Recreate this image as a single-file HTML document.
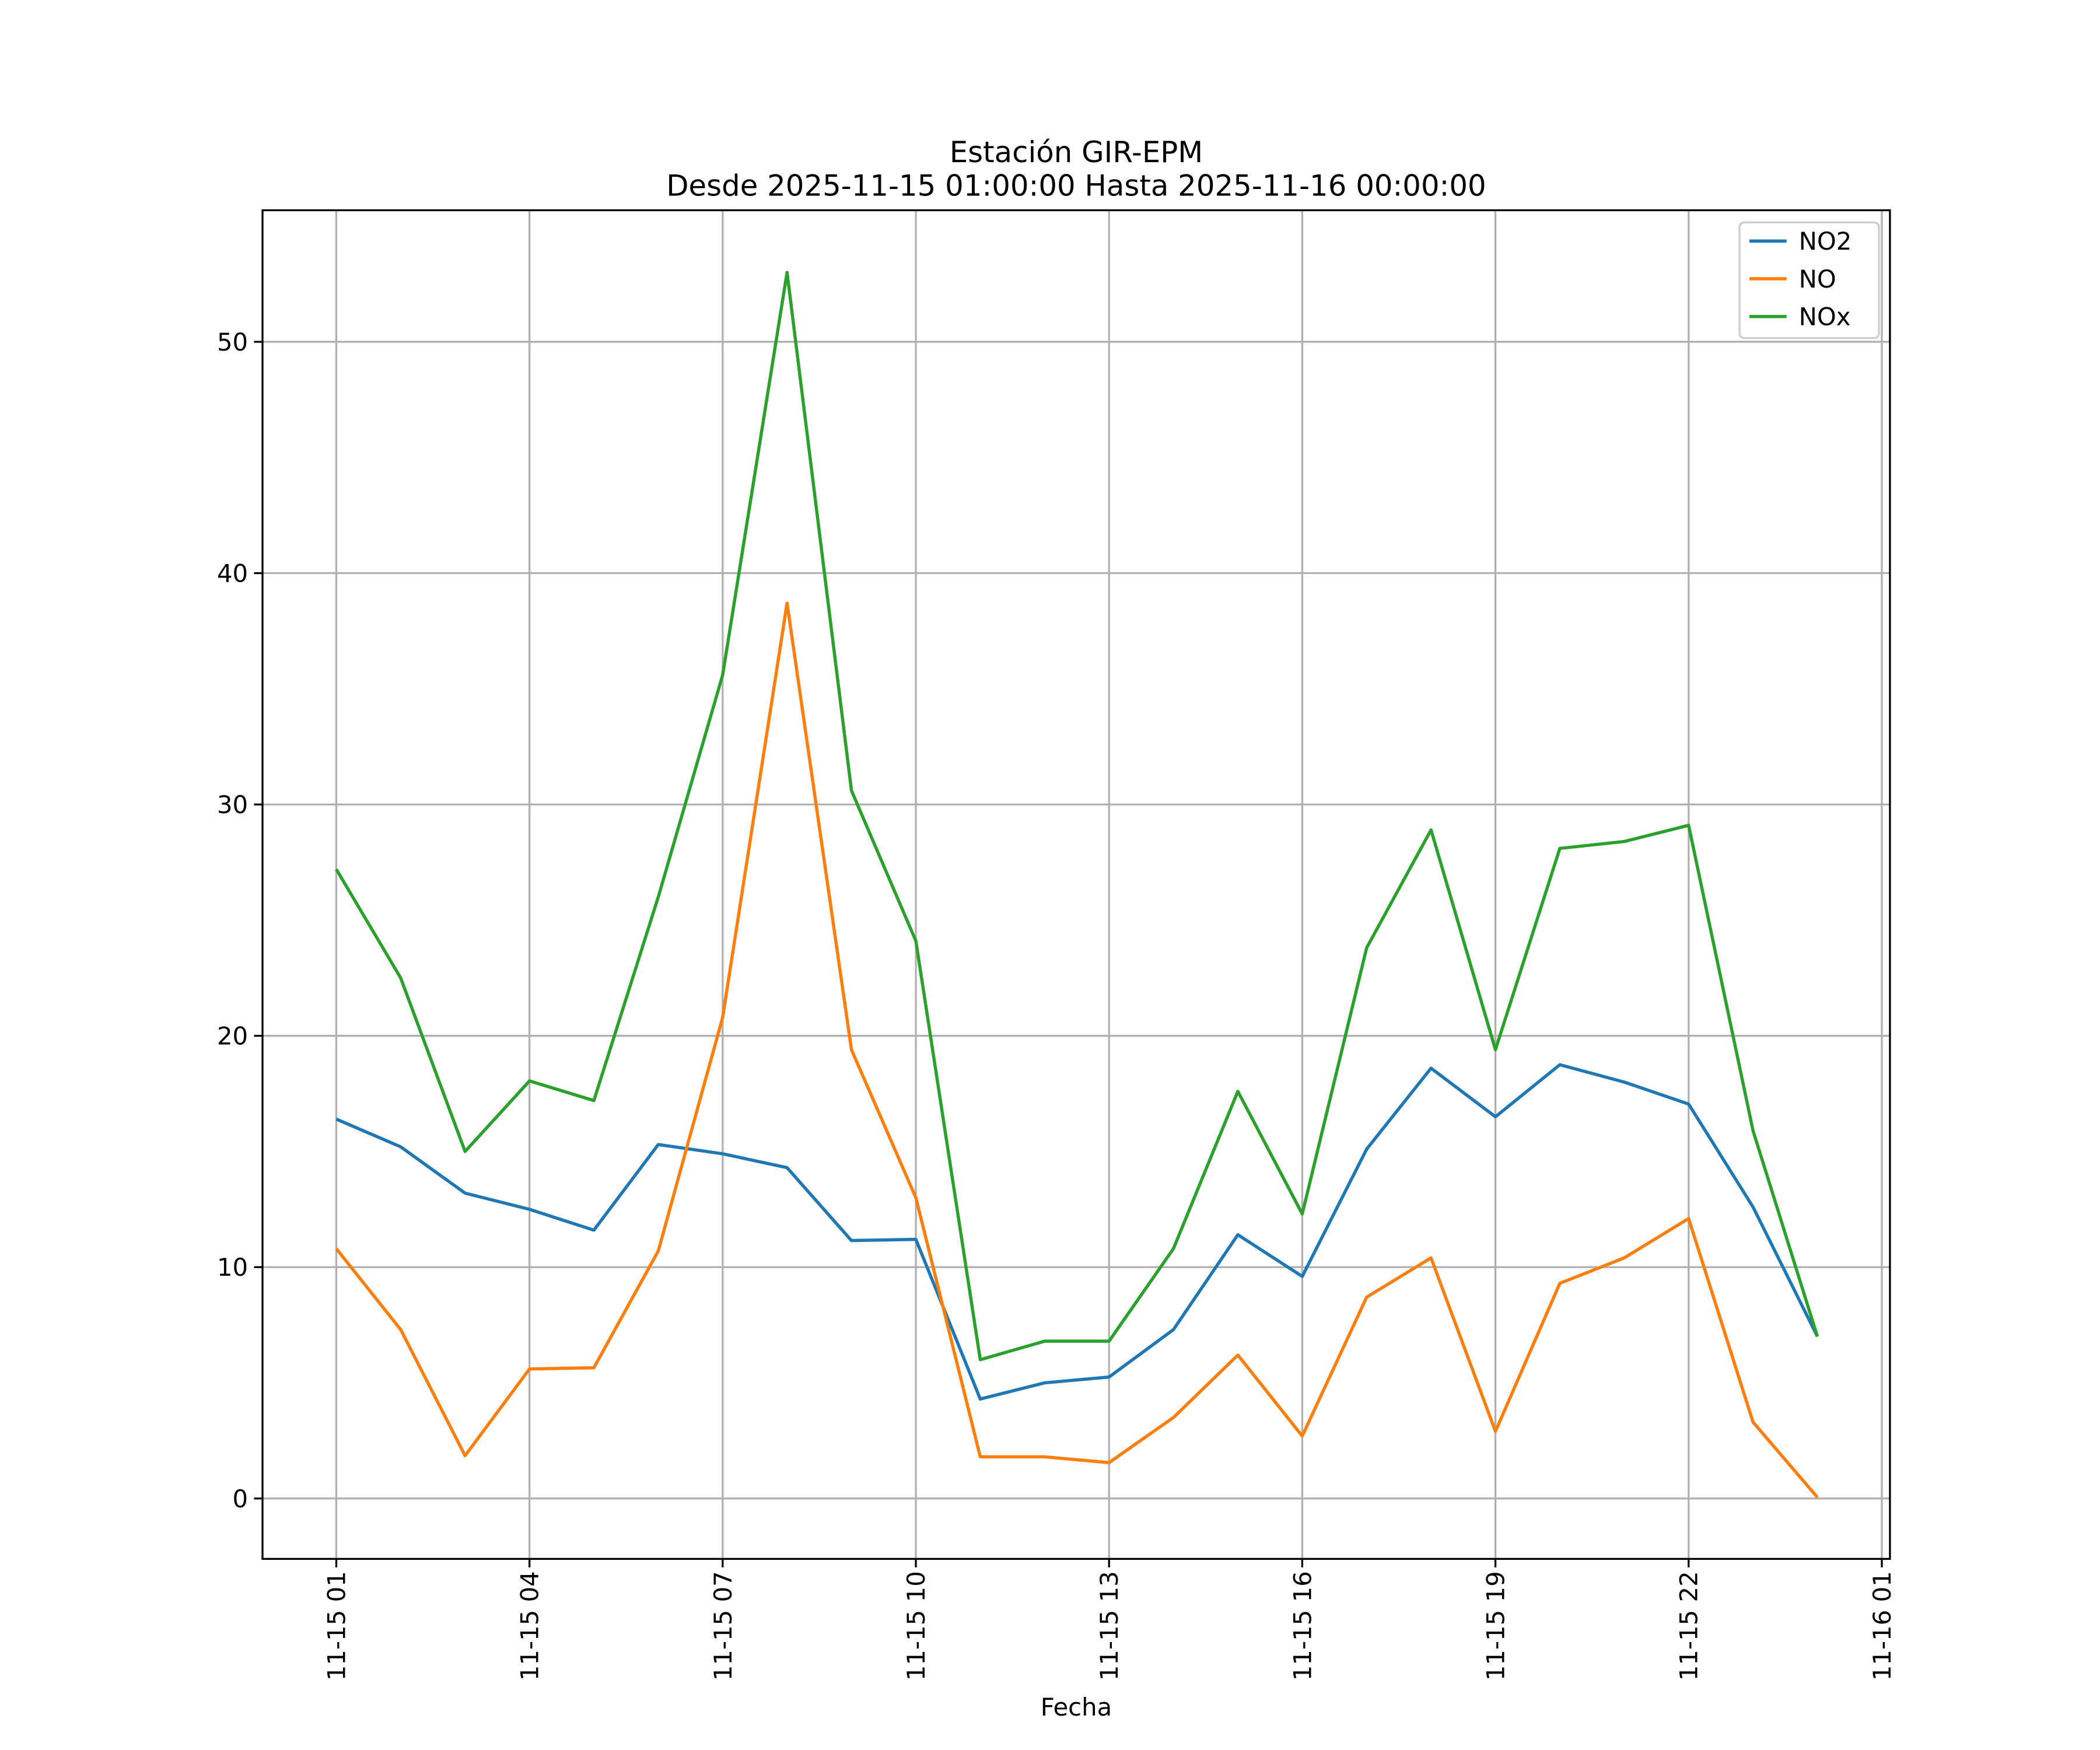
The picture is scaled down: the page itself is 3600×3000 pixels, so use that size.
<!DOCTYPE html>
<html><head><meta charset="utf-8"><style>body{margin:0;background:#fff}svg{display:block;font-family:"DejaVu Sans","Liberation Sans",sans-serif}</style></head>
<body>
<svg id="chart" width="3600" height="3000" xmlns="http://www.w3.org/2000/svg">
<rect width="3600" height="3000" fill="#fff"/>
<g transform="scale(0.99567)">
<g id="grid"></g>
<g id="series"></g>
<rect x="452" y="362" width="2802" height="2322" fill="none" stroke="#000" stroke-width="3.3"/>
<g id="ticks"></g>
<text x="1853" y="279" font-size="50" text-anchor="middle">Estación GIR-EPM</text>
<text x="1853" y="337" font-size="50" text-anchor="middle">Desde 2025-11-15 01:00:00 Hasta 2025-11-16 00:00:00</text>
<text x="1853" y="2954" font-size="42" text-anchor="middle">Fecha</text>
<g id="legend"></g>
</g>
</svg>
<script>
const hours = [1,2,3,4,5,6,7,8,9,10,11,12,13,14,15,16,17,18,19,20,21,22,23,24];
const no2 = [16.4,15.2,13.2,12.5,11.6,15.3,14.9,14.3,11.15,11.2,4.3,5.0,5.25,7.3,11.4,9.6,15.1,18.6,16.5,18.75,18.0,17.05,12.6,7.0];
const no = [10.8,7.3,1.85,5.6,5.65,10.7,20.8,38.7,19.4,13.0,1.8,1.8,1.55,3.5,6.2,2.7,8.7,10.4,2.9,9.3,10.4,12.1,3.3,0.05];
const nox = [27.2,22.5,15.0,18.05,17.2,26.0,35.6,53.0,30.6,24.1,6.0,6.8,6.8,10.8,17.6,12.3,23.8,28.9,19.4,28.1,28.4,29.1,15.9,7.0];
const xTickHours = [1,4,7,10,13,16,19,22,25];
const xTickLabels = ["11-15 01","11-15 04","11-15 07","11-15 10","11-15 13","11-15 16","11-15 19","11-15 22","11-16 01"];
const yTicks = [0,10,20,30,40,50];
const seriesNames = ["NO2","NO","NOx"];
const colors = ["#1f77b4","#ff7f0e","#2ca02c"];
const NS="http://www.w3.org/2000/svg";
const L=452,R=3254,T=362,B=2684;
const xs=h=>579+(h-1)*(3240-579)/24;
const ys=v=>2580-v*(2580-588.5)/50;
function mk(tag,attrs,parent,txt){const e=document.createElementNS(NS,tag);for(const k in attrs)e.setAttribute(k,attrs[k]);if(txt!==undefined)e.textContent=txt;parent.appendChild(e);return e;}
const grid=document.getElementById('grid'),ticks=document.getElementById('ticks'),ser=document.getElementById('series'),leg=document.getElementById('legend');
xTickHours.forEach((h,i)=>{const x=xs(h);
 const g=mk('line',{x1:x,x2:x,y1:T,y2:B,stroke:'#b0b0b0','stroke-width':3.3},grid);
 
 
 const t=mk('line',{x1:x,x2:x,y1:B,y2:B+14.6,stroke:'#000','stroke-width':3.3},ticks);
 
 
 const lb=mk('text',{x:0,y:0,'font-size':42,'text-anchor':'end',transform:`translate(${x+15},${B+21}) rotate(-90)`},ticks,xTickLabels[i]);
 
 
});
yTicks.forEach(v=>{const y=ys(v);
 const g=mk('line',{x1:L,x2:R,y1:y,y2:y,stroke:'#b0b0b0','stroke-width':3.3},grid);
 
 
 const t=mk('line',{x1:L-14.6,x2:L,y1:y,y2:y,stroke:'#000','stroke-width':3.3},ticks);
 
 
 const lb=mk('text',{x:L-25,y:y+15,'font-size':42,'text-anchor':'end'},ticks,String(v));
 
 
});
[no2,no,nox].forEach((d,i)=>{
 const p=mk('polyline',{points:d.map((v,j)=>xs(hours[j])+','+ys(v)).join(' '),fill:'none',stroke:colors[i],'stroke-width':5.5,'stroke-linejoin':'round'},ser);
 
 
});
const box=mk('rect',{x:2995,y:383,width:240,height:199,rx:8,fill:'#fff','fill-opacity':0.8,stroke:'#cccccc','stroke-width':3.3},leg);


seriesNames.forEach((n,i)=>{const y=415+i*65;
 const l=mk('line',{x1:3012,x2:3076,y1:y,y2:y,stroke:colors[i],'stroke-width':5.5},leg);
 
 
 const t=mk('text',{x:3097,y:y+15,'font-size':42},leg,n);
 
 
});
</script>
</body></html>
